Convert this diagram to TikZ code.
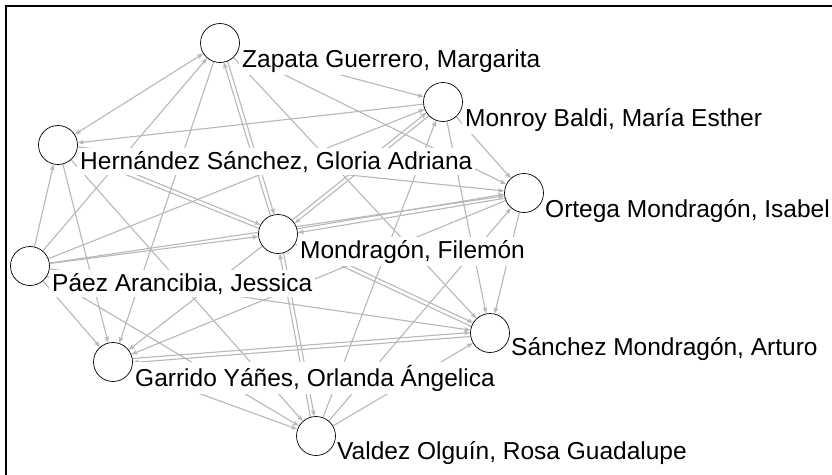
\documentclass[tikz,border=0pt]{standalone}
\usepackage{fontspec}
\setmainfont{Liberation Sans}
\usetikzlibrary{arrows.meta,calc}
\pgfdeclarelayer{bg}
\pgfsetlayers{bg,main}
\newcommand\mutualedge[2]{%
  \draw[medge] ($(#1.center)!2pt!90:(#2.center)$) -- ($(#2.center)!2pt!-90:(#1.center)$);
  \draw[medge] ($(#2.center)!2pt!90:(#1.center)$) -- ($(#1.center)!2pt!-90:(#2.center)$);}
\begin{document}
\begin{tikzpicture}[x=1pt,y=-1pt,
  vtx/.style={circle,draw=black,line width=0.7pt,fill=white,minimum size=39pt,inner sep=0pt},
  lbl/.style={fill=white,inner sep=3pt,anchor=base west,font=\fontsize{24.5}{28}\selectfont},
  edge/.style={draw=black!28,line width=1.1pt,-{Stealth[length=6pt,width=4.5pt,inset=1pt]}},
  bedge/.style={edge,{Stealth[length=6pt,width=4.5pt,inset=1pt]}-{Stealth[length=6pt,width=4.5pt,inset=1pt]}},
  medge/.style={edge,shorten <=19.6pt,shorten >=19.6pt}]
\useasboundingbox (0,0) rectangle (832,474);
\begin{pgfonlayer}{bg}
\fill[white] (0,0) rectangle (832,474);
\end{pgfonlayer}
\begin{scope}
\clip (0,0) rectangle (832,474);
\draw[line width=2pt] (5.5,6) rectangle (845,485);
\end{scope}
% centres
\coordinate (Zc) at (220,43);
\coordinate (Hc) at (58,145);
\coordinate (Mc) at (443,102);
\coordinate (Oc) at (524,193);
\coordinate (Fc) at (278,234);
\coordinate (Pc) at (30,266);
\coordinate (Gc) at (113,362);
\coordinate (Vc) at (316,436);
\coordinate (Sc) at (490,333);
% labels
\node[lbl] (Zl) at ($(Zc)+(19,24)$) {Zapata Guerrero, Margarita};
\node[lbl] (Hl) at ($(Hc)+(19,24)$) {Hernández Sánchez, Gloria Adriana};
\node[lbl] (Ml) at ($(Mc)+(19,24)$) {Monroy Baldi, María Esther};
\node[lbl] (Ol) at ($(Oc)+(18,24)$) {Ortega Mondragón, Isabel};
\node[lbl] (Fl) at ($(Fc)+(19,24)$) {Mondragón, Filemón};
\node[lbl] (Pl) at ($(Pc)+(19,25)$) {Páez Arancibia, Jessica};
\node[lbl] (Gl) at ($(Gc)+(19,24)$) {Garrido Yáñes, Orlanda Ángelica};
\node[lbl] (Vl) at ($(Vc)+(18,23)$) {Valdez Olguín, Rosa Guadalupe};
\node[lbl] (Sl) at ($(Sc)+(18,22)$) {Sánchez Mondragón, Arturo};
% vertices
\node[vtx] (Z) at (Zc) {};
\node[vtx] (H) at (Hc) {};
\node[vtx] (M) at (Mc) {};
\node[vtx] (O) at (Oc) {};
\node[vtx] (F) at (Fc) {};
\node[vtx] (P) at (Pc) {};
\node[vtx] (G) at (Gc) {};
\node[vtx] (V) at (Vc) {};
\node[vtx] (S) at (Sc) {};
% edges
\begin{pgfonlayer}{bg}
\draw[edge] (Z) -- (M);
\draw[edge] (Z) -- (S);
\draw[edge] (Z) -- (G);
\draw[bedge] (Z) -- (H);
\draw[bedge] (Z) -- (O);
\draw[edge] (P) -- (Z);
\draw[edge] (P) -- (H);
\draw[edge] (P) -- (M);
\draw[edge] (P) -- (O);
\draw[edge] (P) -- (F);
\draw[edge] (P) -- (G);
\draw[edge] (P) -- (V);
\draw[edge] (P) -- (S);
\draw[edge] (M) -- (H);
\draw[edge] (M) -- (O);
\draw[edge] (M) -- (S);
\draw[edge] (V) -- (M);
\draw[edge] (H) -- (O);
\draw[edge] (H) -- (V);
\draw[edge] (H) -- (G);
\draw[edge] (F) -- (G);
\draw[edge] (O) -- (G);
\draw[edge] (V) -- (O);
\draw[edge] (O) -- (S);
\draw[edge] (G) -- (V);
\draw[edge] (V) -- (S);
\mutualedge{Z}{F}
\mutualedge{H}{F}
\mutualedge{F}{S}
\mutualedge{F}{O}
\mutualedge{F}{V}
\mutualedge{F}{M}
\mutualedge{G}{S}
\end{pgfonlayer}
\end{tikzpicture}
\end{document}
